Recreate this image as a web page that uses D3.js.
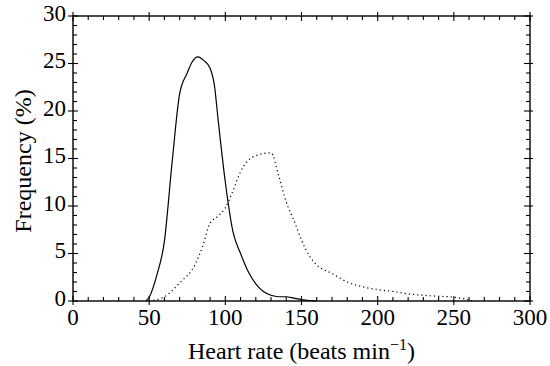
<!DOCTYPE html>
<html>
<head>
<meta charset="utf-8">
<script src="https://cdn.jsdelivr.net/npm/d3@7"></script>
<style>
  body { margin: 0; background: #fff; }
</style>
</head>
<body>
<div id="chart"></div>
<script>
// heart rate (beats/min) vs frequency (%)
const solidX = [48, 50, 55, 60, 65, 70, 75, 78, 82, 86, 90, 93, 95, 100, 105, 110, 115, 120, 125, 130, 135, 140, 145, 150, 155, 160];
const solidY = [0, 0.4, 2.7, 6.3, 14.5, 21.8, 24.0, 25.1, 25.7, 25.3, 24.5, 22.5, 19.5, 12.5, 7.3, 5.0, 3.1, 1.8, 1.0, 0.6, 0.45, 0.45, 0.3, 0.15, 0.05, 0];

const dottedX = [50, 60, 70, 80, 85, 90, 95, 100, 105, 110, 115, 120, 130, 135, 140, 145, 150, 155, 160, 170, 180, 190, 200, 210, 220, 230, 240, 250, 260, 262];
const dottedY = [0, 0.45, 1.9, 3.8, 5.7, 8.2, 8.9, 9.8, 11.6, 13.6, 14.8, 15.3, 15.6, 13.2, 10.4, 8.5, 6.4, 4.8, 3.8, 2.9, 2.0, 1.5, 1.2, 1.0, 0.75, 0.6, 0.5, 0.4, 0.1, 0];

const xTicks = [0, 50, 100, 150, 200, 250, 300];
const yTicks = [0, 5, 10, 15, 20, 25, 30];

const W = 550, H = 366;
const margin = { top: 16, right: 20, bottom: 65, left: 73 };
const width = W - margin.left - margin.right;
const height = H - margin.top - margin.bottom;
const serif = "Liberation Serif";

const svg = d3.select("#chart").append("svg")
    .attr("width", W)
    .attr("height", H);

const g = svg.append("g")
    .attr("transform", `translate(${margin.left},${margin.top})`);

const x = d3.scaleLinear().domain([0, 300]).range([0, width]);
const y = d3.scaleLinear().domain([0, 30]).range([height, 0]);

// minor ticks (inward on all sides)
const xMinor = d3.range(0, 301, 10).filter(v => v % 50 !== 0);
const yMinor = d3.range(0, 31, 1).filter(v => v % 5 !== 0);
const tk = g.append("g").attr("stroke", "#000").attr("stroke-width", 1.1);

xMinor.forEach(v => {
    tk.append("line").attr("x1", x(v)).attr("x2", x(v)).attr("y1", height).attr("y2", height - 4);
    tk.append("line").attr("x1", x(v)).attr("x2", x(v)).attr("y1", 0).attr("y2", 4);
});
yMinor.forEach(v => {
    tk.append("line").attr("y1", y(v)).attr("y2", y(v)).attr("x1", 0).attr("x2", 4);
    tk.append("line").attr("y1", y(v)).attr("y2", y(v)).attr("x1", width).attr("x2", width - 4);
});
// major ticks cross the frame
xTicks.forEach(v => {
    tk.append("line").attr("x1", x(v)).attr("x2", x(v)).attr("y1", height + 4).attr("y2", height - 5);
    tk.append("line").attr("x1", x(v)).attr("x2", x(v)).attr("y1", -4).attr("y2", 5);
});
yTicks.forEach(v => {
    tk.append("line").attr("y1", y(v)).attr("y2", y(v)).attr("x1", -5).attr("x2", 5);
    tk.append("line").attr("y1", y(v)).attr("y2", y(v)).attr("x1", width + 3).attr("x2", width - 6);
});

// frame
g.append("rect")
    .attr("width", width)
    .attr("height", height)
    .attr("fill", "none")
    .attr("stroke", "#000")
    .attr("stroke-width", 1.4);

// tick labels
g.selectAll(".xl").data(xTicks).join("text")
    .attr("class", "xl")
    .attr("x", d => x(d))
    .attr("y", height + 24)
    .attr("text-anchor", "middle")
    .attr("font-family", serif)
    .style("font-size", "23px")
    .text(d => d);

g.selectAll(".yl").data(yTicks).join("text")
    .attr("class", "yl")
    .attr("x", -7)
    .attr("y", d => y(d) + 4.5)
    .attr("text-anchor", "end")
    .attr("font-family", serif)
    .style("font-size", "23px")
    .text(d => d);

// axis titles
const xt = g.append("text")
    .attr("x", width / 2)
    .attr("y", height + 58)
    .attr("text-anchor", "middle")
    .attr("font-family", serif)
    .style("font-size", "24px");
xt.append("tspan").text("Heart rate (beats min");
xt.append("tspan").attr("dy", -9).style("font-size", "16px").text("\u22121");
xt.append("tspan").attr("dy", 9).text(")");

g.append("text")
    .attr("transform", `translate(-42,${height / 2 + 2.5}) rotate(-90)`)
    .attr("text-anchor", "middle")
    .attr("font-family", serif)
    .style("font-size", "24px")
    .text("Frequency (%)");

// curves
const line = d3.line()
    .x(d => x(d[0]))
    .y(d => y(d[1]))
    .curve(d3.curveMonotoneX);

g.append("path")
    .datum(d3.zip(solidX, solidY))
    .attr("d", line)
    .attr("fill", "none")
    .attr("stroke", "#000")
    .attr("stroke-width", 1.2);

g.append("path")
    .datum(d3.zip(dottedX, dottedY))
    .attr("d", line)
    .attr("fill", "none")
    .attr("stroke", "#000")
    .attr("stroke-width", 1.2)
    .attr("stroke-dasharray", "1.2,3");
</script>
</body>
</html>
